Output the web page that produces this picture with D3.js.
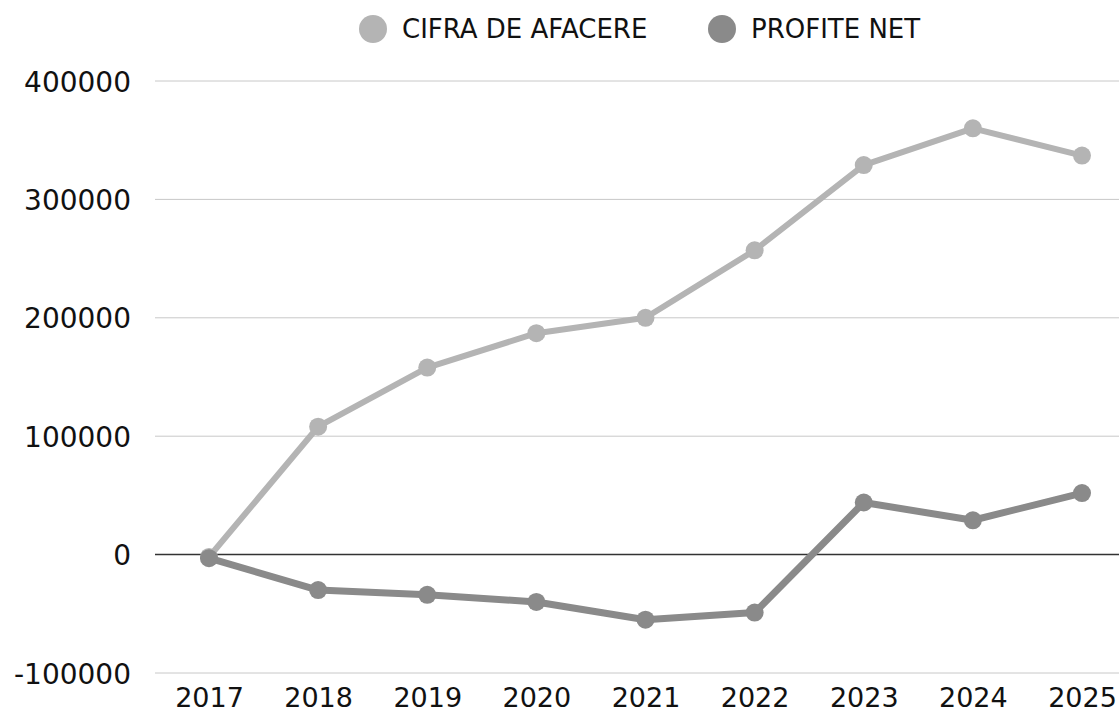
<!DOCTYPE html>
<html><head><meta charset="utf-8">
<script src="https://cdn.jsdelivr.net/npm/d3@7"></script>
<style>
html,body{margin:0;padding:0;background:#fff;}
text{font-family:"DejaVu Sans",sans-serif;fill:#111;}
</style></head>
<body>
<svg id="chart" width="1119" height="713"></svg>
<script>
const years = ["2017","2018","2019","2020","2021","2022","2023","2024","2025"];
const cifraDeAfacere = [-2000, 108000, 158000, 187000, 200000, 257000, 329000, 360000, 337000];
const profiteNet = [-3000, -30000, -34000, -40000, -55000, -49000, 44000, 29000, 52000];
const yTicks = [-100000, 0, 100000, 200000, 300000, 400000];
const seriesNames = ["CIFRA DE AFACERE", "PROFITE NET"];
const seriesColors = ["#b4b4b4", "#8a8a8a"];

const svg = d3.select("#chart");
const x = d3.scalePoint().domain(years).range([209, 1082]);
const y = d3.scaleLinear().domain([-100000, 400000]).range([673, 81]);

// gridlines
svg.append("g").selectAll("line").data(yTicks).join("line")
  .attr("x1", 155).attr("x2", 1119)
  .attr("y1", d => y(d)).attr("y2", d => y(d))
  .attr("stroke", d => d === 0 ? "#333" : "#c8c8c8")
  .attr("stroke-width", d => d === 0 ? 1.5 : 1);

// y axis labels
const yAxis = d3.axisLeft(y).tickValues(yTicks).tickSize(0).tickPadding(0).tickFormat(d => String(d));
const gy = svg.append("g").attr("transform", "translate(131,0)").call(yAxis);
gy.select(".domain").remove();
gy.selectAll("text").attr("font-size", 28).attr("font-family", "DejaVu Sans").attr("fill", "#111").attr("dy", "0.36em");

// x axis labels
const xAxis = d3.axisBottom(x).tickSize(0).tickPadding(0);
const gx = svg.append("g").attr("transform", "translate(0,707)").call(xAxis);
gx.select(".domain").remove();
gx.selectAll("text").attr("font-size", 27).attr("font-family", "DejaVu Sans").attr("fill", "#111").attr("dy", "0");

const line = d3.line().x((d, i) => x(years[i])).y(d => y(d));
const allSeries = [cifraDeAfacere, profiteNet];
const widths = [6, 7];
allSeries.forEach((vals, k) => {
  svg.append("path").datum(vals)
    .attr("d", line).attr("fill", "none")
    .attr("stroke", seriesColors[k]).attr("stroke-width", widths[k])
    .attr("stroke-linejoin", "round");
  svg.append("g").selectAll("circle").data(vals).join("circle")
    .attr("cx", (d, i) => x(years[i])).attr("cy", d => y(d))
    .attr("r", 9).attr("fill", seriesColors[k]);
});

// legend
const legendX = [373, 722];
seriesNames.forEach((name, k) => {
  svg.append("circle").attr("cx", legendX[k]).attr("cy", 29).attr("r", 14).attr("fill", seriesColors[k]);
  svg.append("text").attr("x", legendX[k] + 29).attr("y", 29).attr("dy", "0.36em")
    .attr("font-size", 26).text(name);
});
</script>
</body></html>
